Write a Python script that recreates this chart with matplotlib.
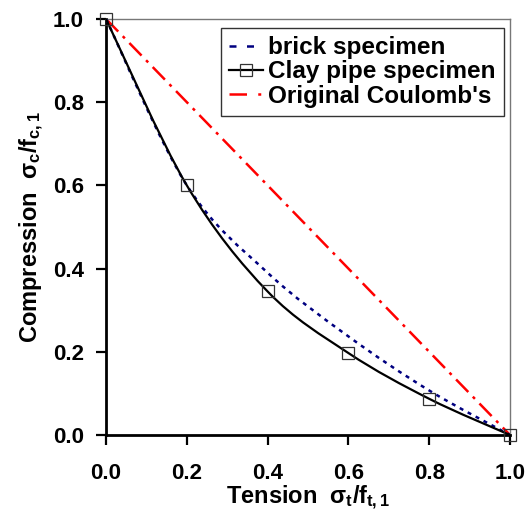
import numpy as np
import matplotlib
matplotlib.use('Agg')
import matplotlib.pyplot as plt
from matplotlib.path import Path
from matplotlib.patches import PathPatch
from matplotlib.lines import Line2D

# ---- Data
tension = [0.0, 0.2, 0.4, 0.6, 0.8, 1.0]
clay = [1.0, 0.6, 0.345, 0.197, 0.087, 0.0]
brick = [1.0, 0.6, 0.39, 0.237, 0.107, 0.0]
coulomb_x = [0.0, 1.0]
coulomb_y = [1.0, 0.0]

plt.rcParams['font.family'] = ['Liberation Sans', 'DejaVu Sans']
plt.rcParams['font.weight'] = 'bold'
plt.rcParams['mathtext.fontset'] = 'custom'
plt.rcParams['mathtext.rm'] = 'Liberation Sans:bold'
plt.rcParams['mathtext.it'] = 'Liberation Sans:bold'
plt.rcParams['mathtext.bf'] = 'Liberation Sans:bold'


def smooth_path(xs, ys):
    # Excel-style smoothed line: cubic Bezier segments through the points
    pts = np.column_stack([xs, ys])
    n = len(pts)
    verts = [pts[0]]
    codes = [Path.MOVETO]
    for i in range(n - 1):
        p0 = pts[max(i - 1, 0)]
        p1 = pts[i]
        p2 = pts[i + 1]
        p3 = pts[min(i + 2, n - 1)]
        c1 = p1 + (p2 - p0) / 6.0
        c2 = p2 - (p3 - p1) / 6.0
        verts += [c1, c2, p2]
        codes += [Path.CURVE4] * 3
    return Path(verts, codes)


fig = plt.figure(figsize=(5.28, 5.13), dpi=100)
ax = fig.add_axes([0.2008, 0.152, 0.7652, 0.811])

navy = '#000080'
dotted = (0, (1.6, 2.0))
dashdot = (0, (7.0, 2.6, 1.2, 2.6))
ax.add_patch(PathPatch(smooth_path(tension, brick), fill=False, edgecolor=navy,
                       lw=1.8, linestyle=dotted, zorder=3))
ax.add_patch(PathPatch(smooth_path(tension, clay), fill=False, edgecolor='black',
                       lw=1.6, zorder=4))
ax.plot(coulomb_x, coulomb_y, color='red', lw=1.8, linestyle=dashdot, zorder=2)
ax.plot(tension, clay, linestyle='none', marker='s', ms=8, mfc='none',
        mec='#333333', mew=0.9, zorder=5, clip_on=False)

handles = [
    Line2D([], [], color=navy, lw=1.8, linestyle=(0, (2.8, 4.2))),
    Line2D([], [], color='black', lw=1.6, marker='s', ms=8, mfc='none',
           mec='#333333', mew=0.9),
    Line2D([], [], color='red', lw=1.8, linestyle=(0, (7.0, 4.5, 1.2, 4.5))),
]
leg = ax.legend(handles, ['brick specimen', 'Clay pipe specimen', "Original Coulomb's"],
                loc='upper right', bbox_to_anchor=(0.985, 0.978), fontsize=17.5,
                frameon=True, fancybox=False, borderpad=0.33, labelspacing=0.05,
                handlelength=1.4, handletextpad=0.22, borderaxespad=0.0)
leg.get_frame().set_edgecolor('black')
leg.get_frame().set_linewidth(1.0)

ax.set_xlim(0, 1)
ax.set_ylim(0, 1)
ax.set_xticks(np.arange(0, 1.01, 0.2))
ax.set_yticks(np.arange(0, 1.01, 0.2))
ax.xaxis.set_major_formatter(matplotlib.ticker.FormatStrFormatter('%.1f'))
ax.yaxis.set_major_formatter(matplotlib.ticker.FormatStrFormatter('%.1f'))
ax.tick_params(direction='out', length=7, width=1.6, labelsize=16)
ax.tick_params(axis='y', pad=9)
ax.tick_params(axis='x', pad=13)
for side in ['left', 'bottom']:
    ax.spines[side].set_linewidth(2)
    ax.spines[side].set_color('black')
for side in ['top', 'right']:
    ax.spines[side].set_linewidth(1.0)
    ax.spines[side].set_color('#777777')

ax.set_xlabel(r'Tension  $\sigma_t/f_{t,1}$', fontsize=17, fontweight='bold', labelpad=0)
ax.set_ylabel(r'Compression  $\sigma_c/f_{c,1}$', fontsize=17, fontweight='bold', labelpad=5)

fig.savefig('out.png', dpi=100)
